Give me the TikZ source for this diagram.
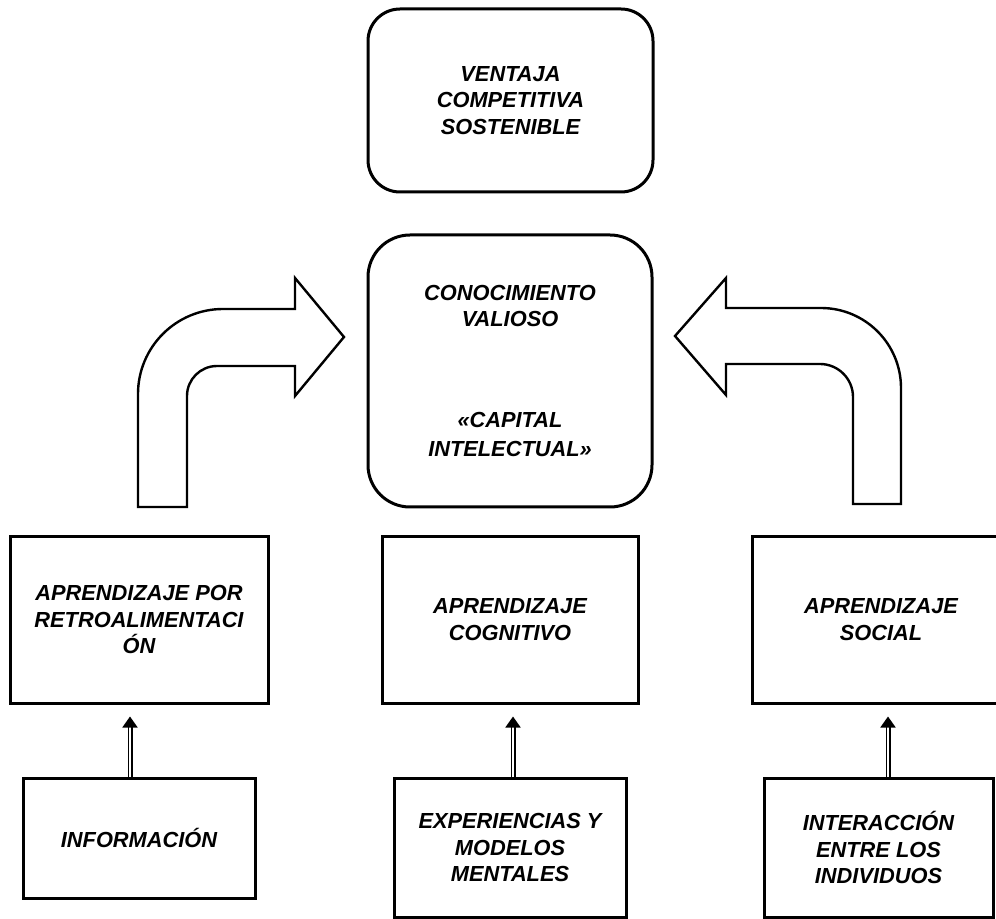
\documentclass[tikz,border=0pt]{standalone}
\usepackage{fontspec}
\setmainfont{Liberation Sans}
\usetikzlibrary{arrows.meta}
\begin{document}
\begin{tikzpicture}[x=0.5pt,y=-0.5pt]

	%DEFINICIONES
	\tikzstyle{every node}=[font=\fontsize{10.9}{13.2}\selectfont\bfseries\itshape]
	\tikzstyle{redondo} = [draw, rounded corners=16pt, align=center, line width=1.5pt, minimum width=142.5pt, minimum height=91.5pt]
	\tikzstyle{block} = [draw, align=center, line width=1.5pt, minimum width=129pt, minimum height=83.5pt]
	\tikzstyle{base} = [draw, align=center, line width=1.5pt, minimum width=116pt, minimum height=69.5pt]
	\tikzstyle{flecha} = [double, double distance=0.7pt, line width=0.9pt, -{Triangle[width=7.5pt,length=5.5pt]}, shorten >=6pt]
	\tikzstyle{curva} = [draw, line width=1.2pt, fill=white, line join=miter]

	\useasboundingbox (0,0) rectangle (996,919);

	%BLOQUES
	\draw(510.5,100.5) node[redondo](1){VENTAJA\\COMPETITIVA\\SOSTENIBLE};
	\draw(510,371) node[redondo, rounded corners=21pt, minimum width=142pt, minimum height=136pt](2){CONOCIMIENTO\\VALIOSO\\[37pt]«CAPITAL\\[1.5pt]INTELECTUAL»};
	\draw(139,619.5) node[block](3){APRENDIZAJE POR\\RETROALIMENTACI\\ÓN};
	\draw(510,619.5) node[block, minimum width=128pt](4){APRENDIZAJE\\COGNITIVO};
	\draw(881,619.5) node[block](5){APRENDIZAJE\\SOCIAL};
	\draw(139,838) node[base, minimum height=60pt](6){INFORMACIÓN};
	\draw(510,847.5) node[base](7){EXPERIENCIAS Y\\MODELOS\\MENTALES};
	\draw(878.5,847.5) node[base, minimum width=114.5pt](8){INTERACCIÓN\\ENTRE LOS\\INDIVIDUOS};

	%FLECHAS
	\draw[flecha] ([xshift=-4.5pt]6.north) -- ([xshift=-4.5pt]6.north |- 3.south);
	\draw[flecha] ([xshift=1.5pt]7.north) -- ([xshift=1.5pt]7.north |- 4.south);
	\draw[flecha] ([xshift=4.75pt]8.north) -- ([xshift=4.75pt]8.north |- 5.south);

	%FLECHAS CURVAS
	\draw[curva] (138,507) [rounded corners=42.5pt] -- (138,309) [sharp corners] -- (295,309) -- (295,278) -- (344,337) -- (295,396) -- (295,366) [rounded corners=15pt] -- (187,366) [sharp corners] -- (187,507) -- cycle;
	\draw[curva] (901,504) [rounded corners=40pt] -- (901,308) [sharp corners] -- (726,308) -- (726,278) -- (675,336) -- (726,395) -- (726,364) [rounded corners=16.5pt] -- (853,364) [sharp corners] -- (853,504) -- cycle;
\end{tikzpicture}
\end{document}
